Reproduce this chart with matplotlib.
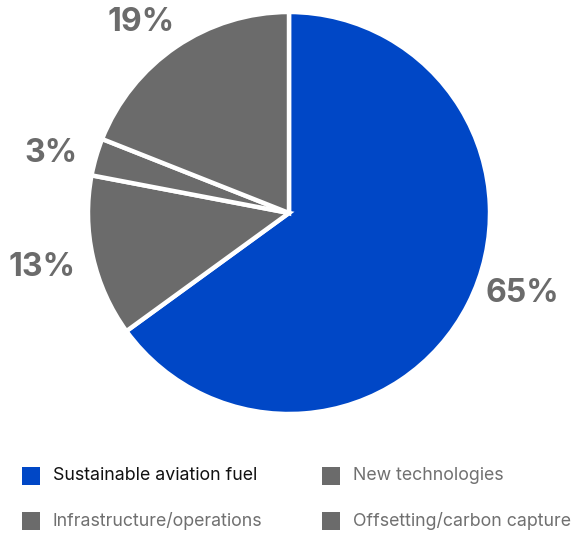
import numpy as np
import matplotlib.pyplot as plt
from matplotlib.patches import Rectangle

categories = ["Sustainable aviation fuel", "New technologies",
              "Infrastructure/operations", "Offsetting/carbon capture"]
shares = [65, 13, 3, 19]
pct_labels = ["65%", "13%", "3%", "19%"]

blue = "#0047c6"
gray = "#6b6b6b"
colors = [blue, gray, gray, gray]

fig = plt.figure(figsize=(5.86, 5.33), dpi=100)
W, H = 586, 533
cx, cy, r = 289, 213, 201
ax = fig.add_axes([(cx - r) / W, (H - cy - r) / H, 2 * r / W, 2 * r / H])

wedges, _ = ax.pie(shares, colors=colors, startangle=90, counterclock=False,
                   radius=1, wedgeprops=dict(edgecolor="white", linewidth=3.2))
ax.set_xlim(-1, 1)
ax.set_ylim(-1, 1)
ax.set_aspect("equal")
ax.axis("off")

# label placement (angle in degrees, distance in radii)
label_pos = [(-19, 1.23), (192.5, 1.26), (166, 1.22), (127.8, 1.2)]
for txt, (ang, d) in zip(pct_labels, label_pos):
    a = np.deg2rad(ang)
    ax.text(d * np.cos(a), d * np.sin(a), txt, ha="center", va="center",
            fontsize=23, fontweight="bold", color=gray, family="Inter",
            clip_on=False)

# legend
rows = [476, 521]
cols = [(22, 53), (322, 353)]
for i, (lab, col) in enumerate(zip(categories, colors)):
    row = rows[i // 2]
    sx, tx = cols[i % 2]
    fig.add_artist(Rectangle((sx / W, (H - row - 9) / H), 18 / W, 18 / H,
                             transform=fig.transFigure, facecolor=col,
                             edgecolor="none"))
    fig.text(tx / W, (H - row) / H, lab, ha="left", va="center",
             fontsize=12.8, color="#111111" if i == 0 else "#707070",
             family="Inter")

fig.savefig("out.png", dpi=100)
